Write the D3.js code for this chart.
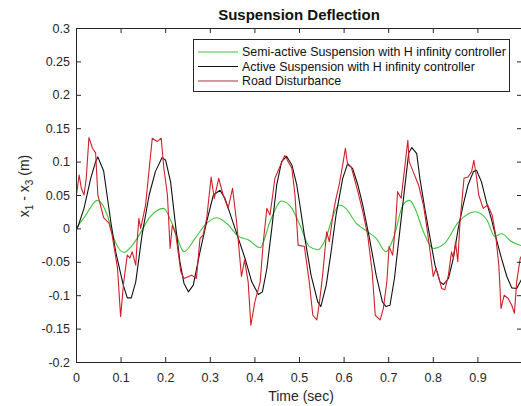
<!DOCTYPE html>
<html>
<head>
<meta charset="utf-8">
<script src="https://cdn.jsdelivr.net/npm/d3@7"></script>
<style>
  body { margin: 0; background: #fff; }
  svg { display: block; font-family: "Liberation Sans", Arial, sans-serif; }
</style>
</head>
<body>
<svg id="chart" width="521" height="406"></svg>
<script>
'use strict';

// semi-active suspension (green)
var semiTime = [0, 0.02, 0.048, 0.07, 0.085, 0.108, 0.12, 0.137, 0.167, 0.196, 0.22, 0.242,
    0.267, 0.289, 0.315, 0.342, 0.364, 0.386, 0.413, 0.435, 0.461, 0.484, 0.502, 0.523,
    0.542, 0.56, 0.575, 0.59, 0.605, 0.628, 0.654, 0.673, 0.695, 0.714, 0.733, 0.748,
    0.76, 0.779, 0.801, 0.827, 0.857, 0.895, 0.921, 0.939, 0.954, 0.977, 1.0];
var semiValues = [0, 0.018, 0.042, 0.02, -0.015, -0.036, -0.03, -0.015, 0.018, 0.03, 0, -0.035,
    -0.015, 0.005, 0.016, 0.005, -0.012, -0.017, -0.029, 0.01, 0.041, 0.03, 0.005, -0.027,
    -0.032, -0.015, 0.016, 0.035, 0.03, 0.008, -0.005, -0.015, -0.035, -0.01, 0.035, 0.042,
    0.03, -0.005, -0.03, -0.022, 0.009, 0.025, 0.013, -0.012, -0.008, -0.02, -0.026];

// active suspension (black)
var activeTime = [0, 0.003, 0.018, 0.033, 0.044, 0.049, 0.062, 0.078, 0.089, 0.106, 0.115, 0.124,
    0.134, 0.148, 0.164, 0.178, 0.193, 0.201, 0.212, 0.224, 0.233, 0.242, 0.252, 0.263,
    0.278, 0.293, 0.308, 0.323, 0.334, 0.349, 0.364, 0.379, 0.394, 0.409, 0.418, 0.428,
    0.439, 0.45, 0.461, 0.472, 0.484, 0.495, 0.502, 0.512, 0.527, 0.542, 0.549, 0.561,
    0.572, 0.583, 0.598, 0.609, 0.62, 0.632, 0.643, 0.658, 0.673, 0.687, 0.695, 0.704,
    0.714, 0.725, 0.736, 0.746, 0.753, 0.764, 0.771, 0.782, 0.794, 0.805, 0.816, 0.824,
    0.835, 0.846, 0.857, 0.868, 0.879, 0.891, 0.898, 0.909, 0.92, 0.931, 0.942, 0.954,
    0.966, 0.977, 0.988, 1.0];
var activeValues = [0, 0, 0.03, 0.075, 0.1, 0.107, 0.086, 0.01, -0.035, -0.085, -0.104, -0.104,
    -0.08, -0.01, 0.05, 0.085, 0.106, 0.102, 0.07, 0, -0.05, -0.082, -0.095, -0.085,
    -0.035, 0.01, 0.05, 0.057, 0.045, 0.015, -0.015, -0.045, -0.08, -0.099, -0.095, -0.06,
    0, 0.065, 0.1, 0.108, 0.095, 0.065, 0.035, -0.01, -0.07, -0.11, -0.117, -0.085,
    -0.035, 0.02, 0.075, 0.097, 0.09, 0.065, 0.035, -0.015, -0.07, -0.11, -0.117, -0.115,
    -0.075, -0.01, 0.055, 0.113, 0.121, 0.112, 0.075, 0.03, -0.015, -0.055, -0.08, -0.084,
    -0.075, -0.045, 0, 0.035, 0.065, 0.085, 0.087, 0.07, 0.04, 0.015, -0.015, -0.045,
    -0.072, -0.089, -0.09, -0.075];

// road disturbance (red)
var roadTime = [0, 0.007, 0.012, 0.018, 0.023, 0.029, 0.037, 0.044, 0.049, 0.062, 0.074, 0.081,
    0.093, 0.1, 0.107, 0.115, 0.121, 0.126, 0.134, 0.137, 0.141, 0.145, 0.156, 0.171,
    0.182, 0.191, 0.197, 0.205, 0.211, 0.216, 0.224, 0.235, 0.242, 0.259, 0.27, 0.278,
    0.285, 0.293, 0.303, 0.31, 0.32, 0.33, 0.341, 0.351, 0.36, 0.371, 0.378, 0.386,
    0.392, 0.401, 0.413, 0.42, 0.428, 0.435, 0.446, 0.468, 0.484, 0.491, 0.498, 0.512,
    0.523, 0.531, 0.54, 0.546, 0.553, 0.562, 0.568, 0.576, 0.583, 0.59, 0.598, 0.604,
    0.609, 0.617, 0.632, 0.643, 0.654, 0.664, 0.671, 0.682, 0.689, 0.697, 0.702, 0.71,
    0.717, 0.721, 0.729, 0.736, 0.744, 0.747, 0.756, 0.768, 0.779, 0.787, 0.794, 0.801,
    0.807, 0.812, 0.82, 0.827, 0.835, 0.842, 0.846, 0.851, 0.856, 0.861, 0.87, 0.879,
    0.887, 0.892, 0.898, 0.903, 0.913, 0.923, 0.933, 0.941, 0.948, 0.953, 0.96, 0.969,
    0.977, 0.983, 0.988, 0.996, 1.0];
var roadValues = [0.045, 0.08, 0.06, 0.05, 0.075, 0.136, 0.12, 0.113, 0.05, 0.016, 0.008, -0.01,
    -0.059, -0.132, -0.08, -0.04, -0.044, -0.035, -0.055, -0.02, 0.015, 0, 0.035, 0.135,
    0.13, 0.135, 0.09, 0.05, -0.03, 0.005, -0.01, -0.065, -0.075, -0.07, -0.075, -0.015,
    -0.01, 0.015, 0.077, 0.045, 0.075, 0.05, 0.03, 0.06, 0.01, -0.072, -0.047, -0.08,
    -0.145, -0.11, -0.08, -0.02, 0.03, 0.02, 0.075, 0.109, 0.09, 0.05, -0.025, -0.027,
    -0.08, -0.13, -0.137, -0.11, -0.07, -0.005, -0.02, 0.02, 0.045, 0.065, 0.095, 0.12,
    0.095, 0.092, 0.055, 0.025, -0.01, -0.065, -0.13, -0.137, -0.12, -0.08, -0.027, -0.04,
    0.01, 0.055, 0.045, 0.085, 0.132, 0.1, 0.085, 0.065, 0.035, 0, -0.035, -0.072,
    -0.06, -0.07, -0.09, -0.092, -0.07, -0.035, -0.045, -0.02, -0.05, 0.01, 0.075, 0.077,
    0.085, 0.102, 0.077, 0.05, 0.03, 0.035, 0.02, -0.01, -0.055, -0.12, -0.1, -0.105,
    -0.115, -0.127, -0.08, -0.045, -0.04];

// the "1" label sits past the cropped right edge in the reference, so only 0..0.9 are labelled
var xTicks = [0, 0.1, 0.2, 0.3, 0.4, 0.5, 0.6, 0.7, 0.8, 0.9, 1];
var xTickLabels = ['0', '0.1', '0.2', '0.3', '0.4', '0.5', '0.6', '0.7', '0.8', '0.9', ''];
var yTicks = [-0.2, -0.15, -0.1, -0.05, 0, 0.05, 0.1, 0.15, 0.2, 0.25, 0.3];
var yTickLabels = ['-0.2', '-0.15', '-0.1', '-0.05', '0', '0.05', '0.1', '0.15', '0.2', '0.25', '0.3'];
var legendLabels = ['Semi-active Suspension with H infinity controller',
    'Active Suspension with H infinity controller',
    'Road Disturbance'];

var axisColor = '#262626';
var plotLeft = 76, plotRight = 522, plotTop = 28, plotBottom = 362;

var x = d3.scaleLinear().domain([0, 1]).range([plotLeft, plotRight]);
var y = d3.scaleLinear().domain([-0.2, 0.3]).range([plotBottom, plotTop]);

var svg = d3.select('#chart');

function zip(ts, vs) {
    return ts.map(function (t, i) { return [t, vs[i]]; });
}

var series = [
    {name: legendLabels[0], color: '#3dc43d', data: zip(semiTime, semiValues), curve: d3.curveMonotoneX},
    {name: legendLabels[1], color: '#111111', data: zip(activeTime, activeValues), curve: d3.curveLinear},
    {name: legendLabels[2], color: '#d0202a', data: zip(roadTime, roadValues), curve: d3.curveLinear}
];

svg.append('defs').append('clipPath').attr('id', 'plot-clip')
    .append('rect')
    .attr('x', plotLeft).attr('y', plotTop)
    .attr('width', plotRight - plotLeft).attr('height', plotBottom - plotTop);

var plot = svg.append('g').attr('clip-path', 'url(#plot-clip)');

series.forEach(function (s) {
    plot.append('path')
        .datum(s.data)
        .attr('fill', 'none')
        .attr('stroke', s.color)
        .attr('stroke-width', 1.1)
        .attr('stroke-linejoin', 'round')
        .attr('d', d3.line()
            .x(function (d) { return x(d[0]); })
            .y(function (d) { return y(d[1]); })
            .curve(s.curve));
});

function styleAxis(g) {
    g.selectAll('.domain').remove();
    g.selectAll('line').attr('stroke', axisColor);
    g.selectAll('text')
        .attr('fill', axisColor)
        .style('font-size', '12.5px');
}

svg.append('g')
    .attr('transform', 'translate(0,' + plotBottom + ')')
    .call(d3.axisBottom(x).tickValues(xTicks)
        .tickFormat(function (d, i) { return xTickLabels[i]; })
        .tickSize(-5).tickPadding(11))
    .call(styleAxis);

svg.append('g')
    .attr('transform', 'translate(0,' + plotTop + ')')
    .call(d3.axisTop(x).tickValues(xTicks).tickFormat('').tickSize(-5))
    .call(styleAxis);

svg.append('g')
    .attr('transform', 'translate(' + plotLeft + ',0)')
    .call(d3.axisLeft(y).tickValues(yTicks)
        .tickFormat(function (d, i) { return yTickLabels[i]; })
        .tickSize(-5).tickPadding(6))
    .call(styleAxis);

svg.append('g')
    .attr('transform', 'translate(' + plotRight + ',0)')
    .call(d3.axisRight(y).tickValues(yTicks).tickFormat('').tickSize(-5))
    .call(styleAxis);

// axes box
svg.append('rect')
    .attr('x', plotLeft + 0.5).attr('y', plotTop + 0.5)
    .attr('width', plotRight - plotLeft).attr('height', plotBottom - plotTop)
    .attr('fill', 'none')
    .attr('stroke', axisColor)
    .attr('stroke-width', 1);

// title
svg.append('text')
    .attr('x', (plotLeft + plotRight) / 2)
    .attr('y', 20)
    .attr('text-anchor', 'middle')
    .style('font-size', '15px')
    .style('font-weight', 'bold')
    .attr('fill', '#111')
    .text('Suspension Deflection');

// x label
svg.append('text')
    .attr('x', 301)
    .attr('y', 401)
    .attr('text-anchor', 'middle')
    .style('font-size', '14px')
    .attr('fill', axisColor)
    .text('Time (sec)');

// y label with subscripts
var yLabel = svg.append('text')
    .attr('transform', 'translate(29,186) rotate(-90)')
    .attr('text-anchor', 'middle')
    .style('font-size', '14px')
    .attr('fill', axisColor);
yLabel.append('tspan').text('x');
yLabel.append('tspan').attr('dy', 4).style('font-size', '10px').text('1');
yLabel.append('tspan').attr('dy', -4).text(' - x');
yLabel.append('tspan').attr('dy', 4).style('font-size', '10px').text('3');
yLabel.append('tspan').attr('dy', -4).text(' (m)');

// legend
var legend = svg.append('g').attr('transform', 'translate(193,39)');
legend.append('rect')
    .attr('x', 0.5).attr('y', 0.5)
    .attr('width', 316).attr('height', 52)
    .attr('fill', '#fff')
    .attr('stroke', axisColor);

var rows = legend.selectAll('g.row')
    .data(series)
    .enter().append('g')
    .attr('class', 'row')
    .attr('transform', function (d, i) { return 'translate(0,' + (13 + i * 14.5) + ')'; });

rows.append('line')
    .attr('x1', 5).attr('x2', 45)
    .attr('stroke', function (d, i) { return i === 2 ? '#a8323a' : d.color; })
    .attr('stroke-width', 1.1);

rows.append('text')
    .attr('x', 49)
    .attr('dy', '0.35em')
    .style('font-size', '12.4px')
    .attr('fill', '#111')
    .text(function (d) { return d.name; });
</script>
</body>
</html>
